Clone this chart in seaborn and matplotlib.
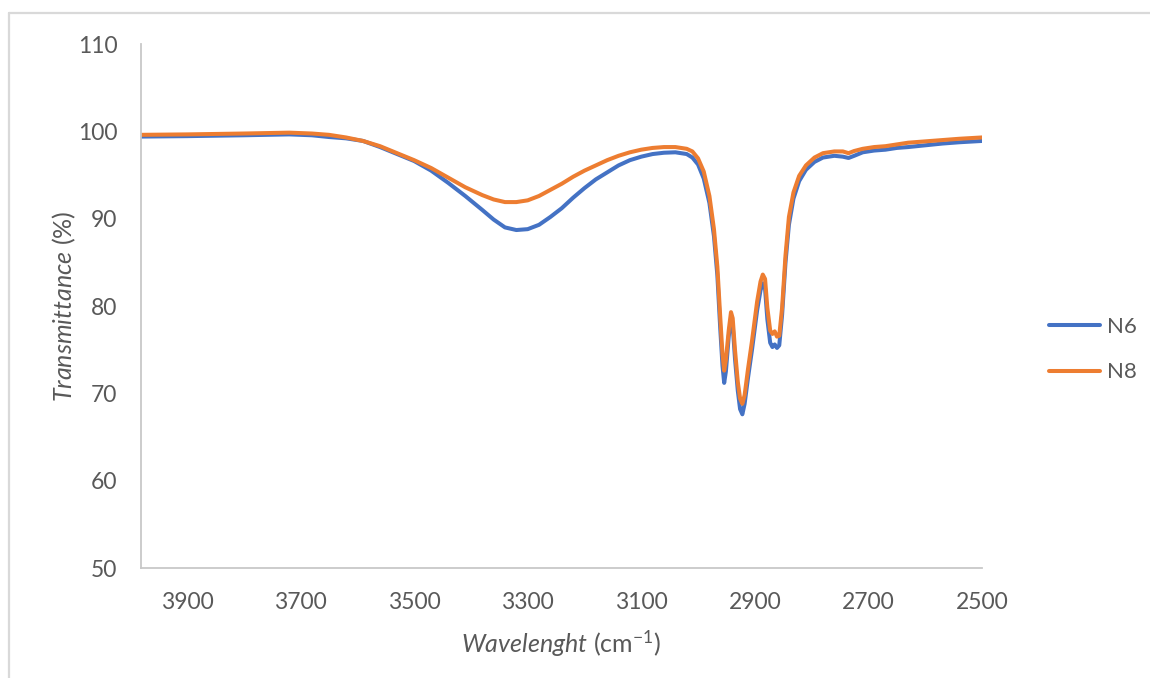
import numpy as np
import pandas as pd
import matplotlib
matplotlib.use("Agg")
import matplotlib.pyplot as plt
from matplotlib.lines import Line2D
import seaborn as sns

# FTIR spectra, C-H stretching region
wavenumber = [3981, 3900, 3800, 3720, 3680, 3650, 3620, 3590, 3560, 3530,
              3500, 3470, 3440, 3410, 3380, 3360, 3340, 3320, 3300, 3280,
              3260, 3240, 3220, 3200, 3180, 3160, 3140, 3120, 3100, 3080,
              3060, 3040, 3020, 3010, 3000, 2990, 2980, 2972, 2966, 2961,
              2957, 2954, 2951, 2946, 2942, 2939, 2935, 2930, 2926, 2922,
              2918, 2912, 2905, 2896, 2890, 2886, 2882, 2878, 2873, 2869,
              2865, 2861, 2857, 2852, 2846, 2840, 2832, 2822, 2810, 2795,
              2780, 2760, 2745, 2735, 2725, 2710, 2690, 2670, 2650, 2630,
              2600, 2570, 2540, 2500]

n6 = [99.4, 99.45, 99.55, 99.65, 99.55, 99.35, 99.2, 98.9, 98.2, 97.4,
      96.6, 95.5, 94.1, 92.6, 91.0, 89.9, 89.0, 88.7, 88.8, 89.3,
      90.2, 91.2, 92.4, 93.5, 94.5, 95.3, 96.1, 96.7, 97.1, 97.4,
      97.55, 97.6, 97.4, 97.0, 96.2, 94.6, 91.8, 88.0, 83.5, 77.5,
      73.2, 71.2, 72.5, 76.5, 78.6, 77.8, 74.0, 70.3, 68.2, 67.6,
      68.8, 71.8, 75.0, 79.5, 81.8, 82.6, 82.0, 78.5, 75.8, 75.3,
      75.6, 75.2, 75.5, 79.0, 85.0, 89.3, 92.3, 94.3, 95.6, 96.5,
      97.0, 97.2, 97.1, 96.95, 97.2, 97.6, 97.8, 97.9, 98.1, 98.2,
      98.4, 98.6, 98.75, 98.9]

n8 = [99.6, 99.65, 99.75, 99.85, 99.75, 99.6, 99.3, 98.9, 98.3, 97.5,
      96.7, 95.8, 94.7, 93.6, 92.7, 92.2, 91.9, 91.9, 92.1, 92.6,
      93.3, 94.0, 94.8, 95.5, 96.1, 96.7, 97.2, 97.6, 97.9, 98.1,
      98.2, 98.2, 98.0, 97.7, 96.9, 95.4, 92.6, 88.8, 84.5, 78.8,
      74.5, 72.6, 73.8, 77.2, 79.3, 78.6, 75.0, 71.3, 69.4, 68.8,
      69.8, 72.8, 76.0, 80.5, 82.8, 83.6, 83.1, 79.8, 77.2, 76.8,
      77.1, 76.5, 76.6, 79.8, 85.8, 90.2, 93.0, 94.9, 96.1, 97.0,
      97.5, 97.7, 97.7, 97.5, 97.75, 98.0, 98.2, 98.3, 98.5, 98.7,
      98.85, 99.0, 99.15, 99.3]

series_names = ["N6", "N8"]
series_colors = {"N6": "#4472C4", "N8": "#ED7D31"}
x_ticks = [3900, 3700, 3500, 3300, 3100, 2900, 2700, 2500]
y_ticks = [50, 60, 70, 80, 90, 100, 110]

df = pd.concat([
    pd.DataFrame({"wavenumber": wavenumber, "transmittance": n6, "sample": "N6"}),
    pd.DataFrame({"wavenumber": wavenumber, "transmittance": n8, "sample": "N8"}),
], ignore_index=True)

sns.set_theme(style="white")
plt.rcParams["font.family"] = ["Lato", "DejaVu Sans"]
plt.rcParams["mathtext.fontset"] = "custom"
plt.rcParams["mathtext.rm"] = "Lato"
plt.rcParams["mathtext.it"] = "Lato:italic"

text_color = "#595959"
fig = plt.figure(figsize=(11.5, 6.78), dpi=100)
ax = fig.add_axes([0.1226, 0.1622, 0.7313, 0.7729])

sns.lineplot(data=df, x="wavenumber", y="transmittance", hue="sample",
             hue_order=series_names, palette=series_colors, sort=False,
             estimator=None, linewidth=2.9, legend=False, ax=ax)

ax.set_xlim(3981, 2500)
ax.set_ylim(50, 110)
ax.set_xticks(x_ticks)
ax.set_yticks(y_ticks)
ax.tick_params(axis="both", length=0, labelsize=16.5, colors=text_color)
ax.tick_params(axis="x", pad=17)
ax.tick_params(axis="y", pad=17)

for side in ("top", "right"):
    ax.spines[side].set_visible(False)
for side in ("left", "bottom"):
    ax.spines[side].set_color("#C8C8C8")
    ax.spines[side].set_linewidth(1.3)

ax.set_xlabel(r"$\mathit{Wavelenght}$ (cm$^{-1}$)", fontsize=18,
              color=text_color)
ax.set_ylabel(r"$\mathit{Transmittance}$ (%)", fontsize=18,
              color=text_color)
ax.xaxis.set_label_coords(0.5, -0.116)
ax.yaxis.set_label_coords(-0.075, 0.5)

handles = [Line2D([0], [0], color=series_colors[s], lw=2.9) for s in series_names]
fig.legend(handles, series_names, loc="center left",
           bbox_to_anchor=(0.895, 0.4845), frameon=False, fontsize=16,
           labelcolor=text_color, handlelength=2.3, handletextpad=0.3,
           labelspacing=1.15)

# chart-area border
border = "#D9D9D9"
fig.add_artist(Line2D([0.0075, 1.0], [0.9808, 0.9808], color=border, lw=1.6,
                      transform=fig.transFigure))
fig.add_artist(Line2D([0.0075, 0.0075], [0.0, 0.9808], color=border, lw=1.6,
                      transform=fig.transFigure))

fig.savefig("out.png", dpi=100, facecolor="white")
